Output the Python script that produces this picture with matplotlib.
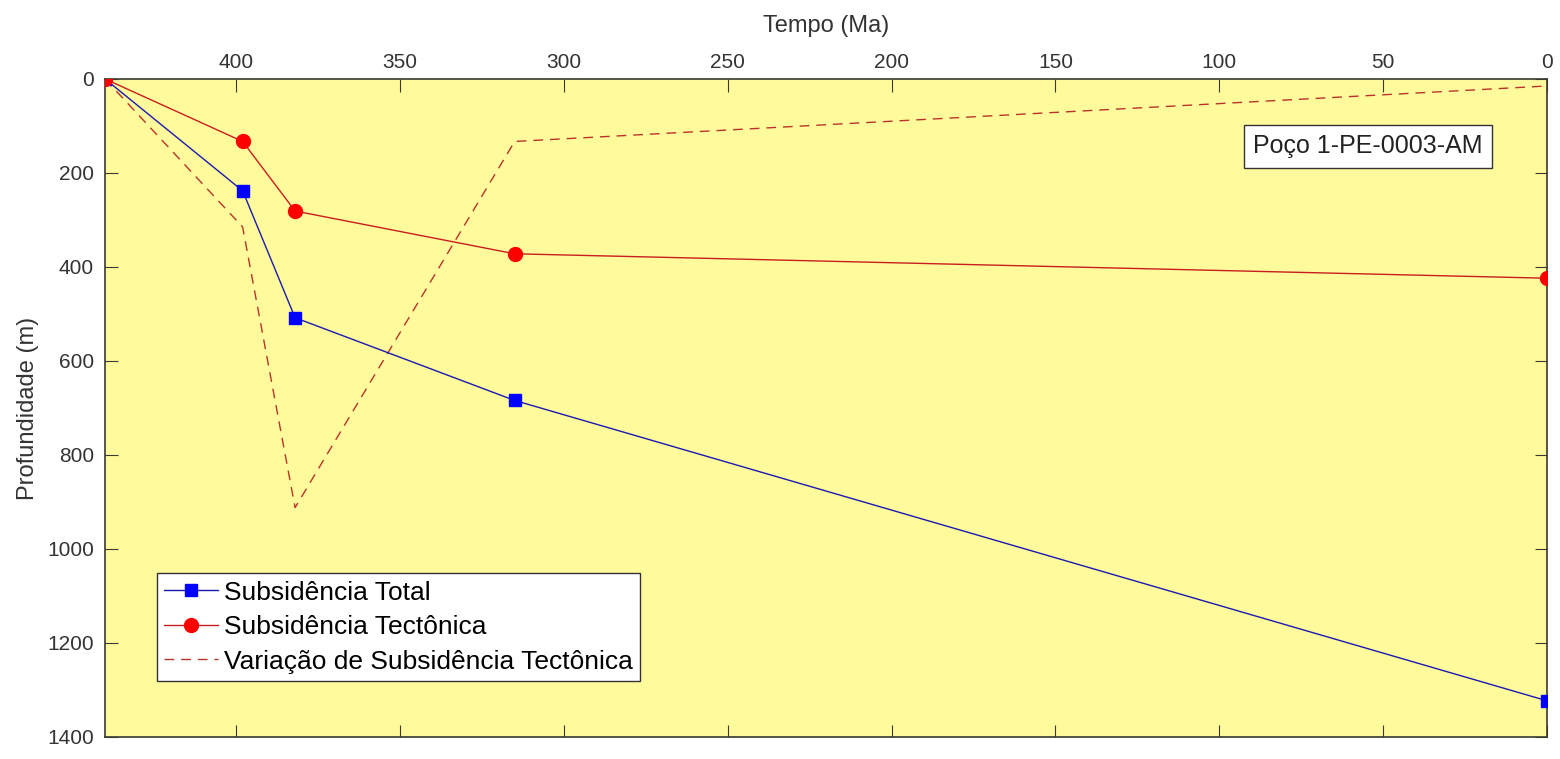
import matplotlib
matplotlib.use("Agg")
import matplotlib.pyplot as plt

plt.rcParams['font.family'] = ['Liberation Sans', 'DejaVu Sans']

# Data
idade_ma = [440, 398, 382, 315, 0]
subs_total = [0, 238, 508, 684, 1323]
subs_tectonica = [0, 133, 281, 372, 424]
var_subs_tectonica = [0, 315, 912, 133, 15]

labels = ["Subsidência Total", "Subsidência Tectônica",
          "Variação de Subsidência Tectônica"]
x_ticks = [400, 350, 300, 250, 200, 150, 100, 50, 0]
y_ticks = [0, 200, 400, 600, 800, 1000, 1200, 1400]

fig = plt.figure(figsize=(15.6, 7.59), dpi=100)
ax = fig.add_axes([0.0673, 0.029, 0.9244, 0.867])
ax.set_facecolor('#FFFA9C')

ax.plot(idade_ma, subs_total, '-s', color='#1A1AB0', lw=1.0,
        markerfacecolor='#0000FF', markeredgecolor='#0000FF', markersize=8.5,
        label=labels[0], zorder=3)
ax.plot(idade_ma, subs_tectonica, '-o', color='#C81E1E', lw=1.0,
        markerfacecolor='#FF0000', markeredgecolor='#FF0000', markersize=10,
        label=labels[1], zorder=3)
ax.plot(idade_ma, var_subs_tectonica, '--', color='#B8342A', lw=1.0,
        dashes=(7, 5), label=labels[2], zorder=2)

ax.set_xlim(440, 0)
ax.set_ylim(1400, 0)
ax.set_xticks(x_ticks)
ax.set_yticks(y_ticks)

axcol = '#3A3A30'
for s in ax.spines.values():
    s.set_color(axcol)
    s.set_linewidth(1.2)
ax.tick_params(axis='x', top=True, bottom=True, labeltop=True,
               labelbottom=False, direction='in', length=9,
               color=axcol, labelsize=15, labelcolor='#333333', pad=5)
ax.tick_params(axis='y', left=True, right=True, labelleft=True,
               direction='in', length=9, color=axcol, labelsize=15,
               labelcolor='#333333', pad=8)
ax.xaxis.set_label_position('top')
ax.set_xlabel('Tempo (Ma)', fontsize=17, color='#333333', labelpad=15)
ax.set_ylabel('Profundidade (m)', fontsize=17, color='#333333', labelpad=6)

leg = ax.legend(loc='lower left', bbox_to_anchor=(0.036, 0.085),
                fontsize=19, frameon=True, fancybox=False, framealpha=1,
                edgecolor='#333333', handlelength=2.05, borderpad=0.28,
                labelspacing=0.4, handletextpad=0.22, borderaxespad=0)
leg.get_frame().set_linewidth(1.0)

ax.text(0.9555, 0.898, 'Poço 1-PE-0003-AM', transform=ax.transAxes,
        ha='right', va='center', fontsize=18, color='#222222',
        bbox=dict(boxstyle='square,pad=0.38', facecolor='white',
                  edgecolor='#333333', linewidth=1.0))

fig.savefig('out.png', dpi=100)
